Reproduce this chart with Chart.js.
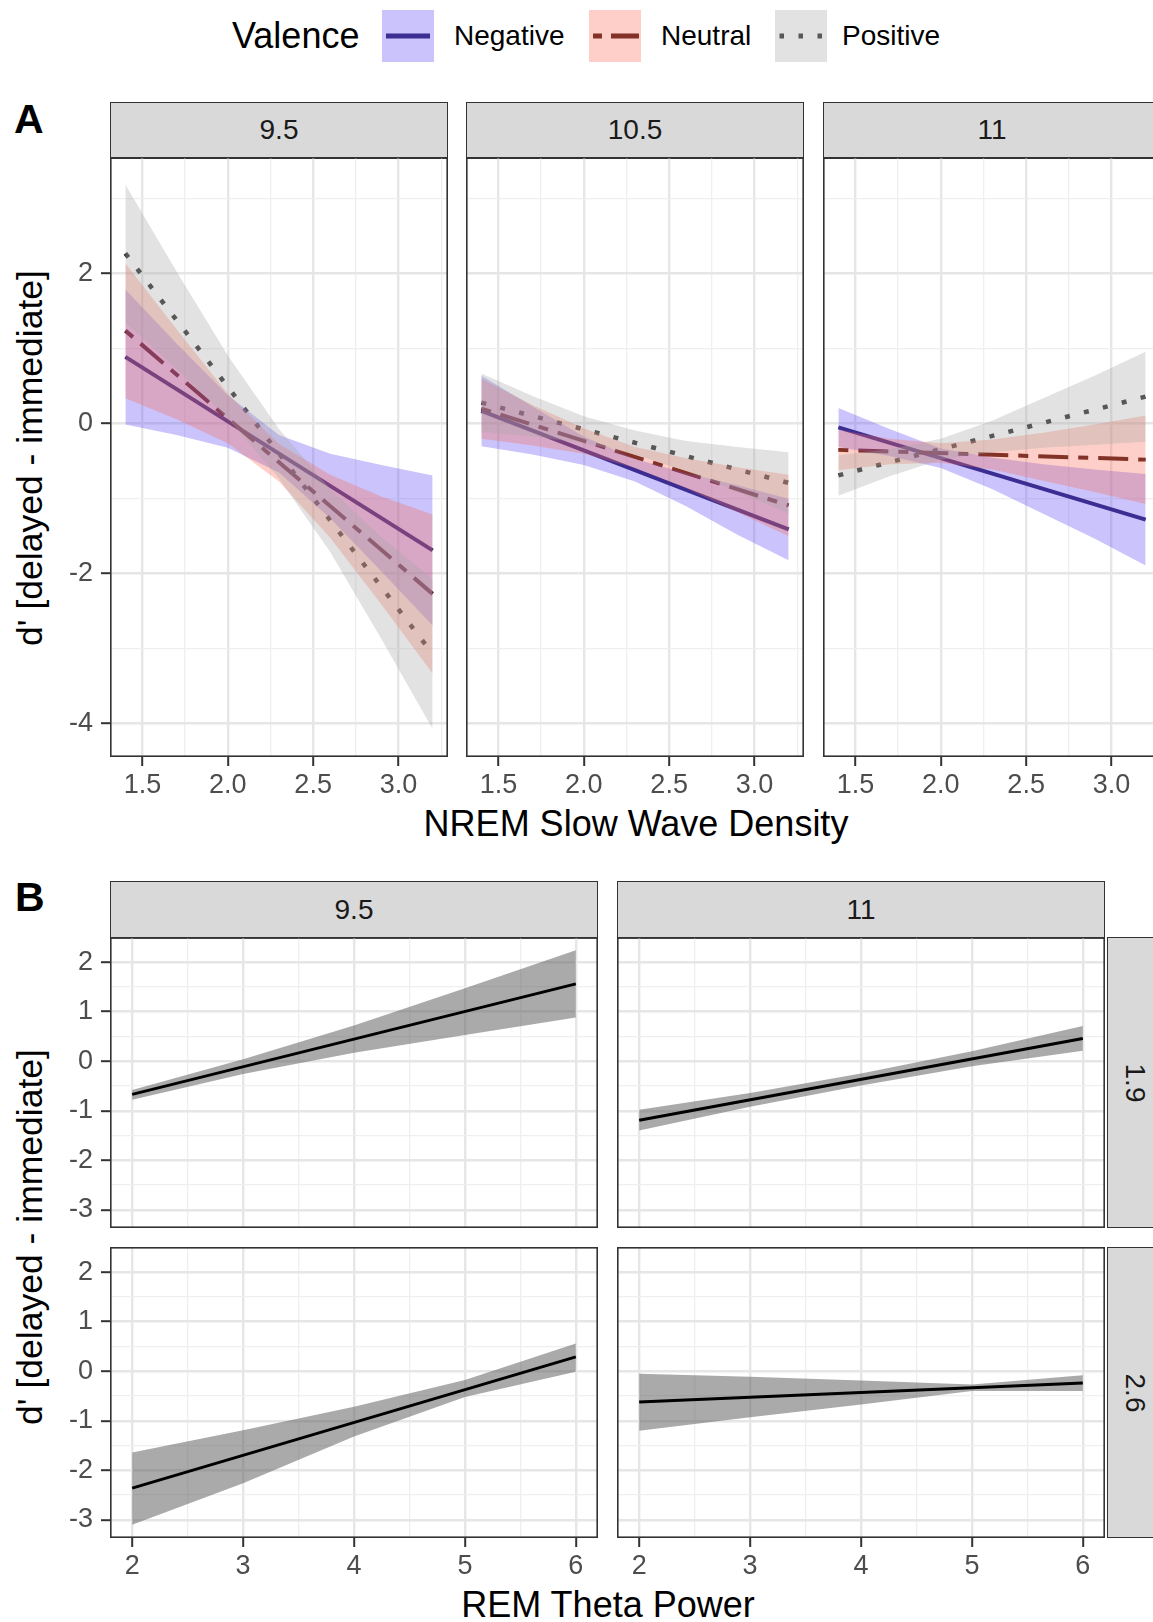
<!DOCTYPE html>
<html>
<head>
<meta charset="utf-8">
<script src="https://cdn.jsdelivr.net/npm/chart.js@4/dist/chart.umd.min.js"></script>
<style>
  html, body { margin: 0; padding: 0; background: #fff; }
  body { width: 1153px; height: 1622px; position: relative; overflow: hidden;
         font-family: "Liberation Sans", Arial, Helvetica, sans-serif; color: #000; }
  .abs { position: absolute; }
  .txt { position: absolute; white-space: nowrap; line-height: 1; }
  .strip { position: absolute; box-sizing: border-box; background: #d9d9d9; border: 1.5px solid #333;
           color: #1a1a1a; font-size: 28px; line-height: 1; display: flex; align-items: center; justify-content: center; }
  .strip.side span { display: inline-block; transform: rotate(90deg); white-space: nowrap; }
  .tag { position: absolute; font-weight: bold; font-size: 41px; line-height: 1; transform: translateY(-50%); }
</style>
</head>
<body>

<!-- shared legend: key line drawn first, ribbon fill laid over it -->
<div class="txt" style="left:232px;top:36px;font-size:36px;transform:translateY(-50%)">Valence</div>
<svg class="abs" style="left:382px;top:10px" width="52" height="52">
  <line x1="4" y1="26" x2="48" y2="26" stroke="#2a2060" stroke-width="5"/>
  <rect width="52" height="52" fill="rgba(94,73,246,0.33)"/>
</svg>
<div class="txt" style="left:454px;top:36px;font-size:28px;transform:translateY(-50%)">Negative</div>
<svg class="abs" style="left:589px;top:10px" width="52" height="52">
  <line x1="4" y1="26" x2="50" y2="26" stroke="#4a1510" stroke-width="5" stroke-dasharray="9 9 28 9"/>
  <rect width="52" height="52" fill="rgba(249,110,88,0.33)"/>
</svg>
<div class="txt" style="left:661px;top:36px;font-size:28px;transform:translateY(-50%)">Neutral</div>
<svg class="abs" style="left:775px;top:10px" width="52" height="52">
  <line x1="4.5" y1="26" x2="48" y2="26" stroke="#303030" stroke-width="5" stroke-dasharray="4.5 14.5"/>
  <rect width="52" height="52" fill="rgba(167,167,167,0.33)"/>
</svg>
<div class="txt" style="left:842px;top:36px;font-size:28px;transform:translateY(-50%)">Positive</div>

<!-- panel tags -->
<div class="tag" style="left:14px;top:119px">A</div>
<div class="tag" style="left:15px;top:897px">B</div>

<!-- axis titles -->
<div class="txt" style="left:31px;top:458px;font-size:35.5px;transform:translate(-50%,-50%) rotate(-90deg)">d' [delayed - immediate]</div>
<div class="txt" style="left:636px;top:824px;font-size:36px;transform:translate(-50%,-50%)">NREM Slow Wave Density</div>
<div class="txt" style="left:31px;top:1237px;font-size:35.5px;transform:translate(-50%,-50%) rotate(-90deg)">d' [delayed - immediate]</div>
<div class="txt" style="left:608px;top:1605px;font-size:36px;transform:translate(-50%,-50%)">REM Theta Power</div>

<script>
// ---------------- data ----------------
const VALENCE = ['Negative', 'Neutral', 'Positive'];

// Panel A: fitted d' change against NREM slow wave density, faceted by 9.5 / 10.5 / 11
const A_FACET_LABELS = ['9.5', '10.5', '11'];
const A_LINE_X = [1.4, 3.2];
const A_BAND_X = [1.4, 1.7, 2.0, 2.3, 2.6, 2.9, 3.2];

const A95_NEG_FIT = [0.89, -1.69];
const A95_NEG_LO  = [-0.01, -0.15, -0.32, -0.65, -1.26, -1.97, -2.69];
const A95_NEG_HI  = [1.79, 1.07, 0.38, -0.15, -0.40, -0.55, -0.69];
const A95_NEU_FIT = [1.24, -2.27];
const A95_NEU_LO  = [0.34, 0.06, -0.26, -0.77, -1.52, -2.41, -3.33];
const A95_NEU_HI  = [2.14, 1.26, 0.40, -0.27, -0.68, -0.97, -1.21];
const A95_POS_FIT = [2.27, -3.07];
const A95_POS_LO  = [1.35, 0.73, 0.07, -0.73, -1.71, -2.87, -4.07];
const A95_POS_HI  = [3.19, 2.03, 0.91, -0.07, -0.87, -1.51, -2.07];

const A105_NEG_FIT = [0.17, -1.41];
const A105_NEG_LO  = [-0.30, -0.41, -0.55, -0.77, -1.10, -1.48, -1.82];
const A105_NEG_HI  = [0.64, 0.23, -0.17, -0.47, -0.66, -0.82, -1.00];
const A105_NEU_FIT = [0.20, -1.09];
const A105_NEU_LO  = [-0.20, -0.29, -0.40, -0.59, -0.86, -1.18, -1.50];
const A105_NEU_HI  = [0.60, 0.25, -0.06, -0.31, -0.46, -0.58, -0.68];
const A105_POS_FIT = [0.28, -0.79];
const A105_POS_LO  = [-0.11, -0.17, -0.26, -0.41, -0.63, -0.91, -1.20];
const A105_POS_HI  = [0.67, 0.37, 0.10, -0.09, -0.23, -0.31, -0.38];

const A11_NEG_FIT = [-0.05, -1.28];
const A11_NEG_LO  = [-0.31, -0.43, -0.59, -0.87, -1.20, -1.53, -1.89];
const A11_NEG_HI  = [0.21, -0.07, -0.33, -0.45, -0.54, -0.61, -0.67];
const A11_NEU_FIT = [-0.35, -0.48];
const A11_NEU_LO  = [-0.62, -0.54, -0.52, -0.61, -0.76, -0.91, -1.07];
const A11_NEU_HI  = [-0.08, -0.20, -0.26, -0.21, -0.12, -0.01, 0.11];
const A11_POS_FIT = [-0.69, 0.36];
const A11_POS_LO  = [-0.96, -0.70, -0.48, -0.38, -0.32, -0.28, -0.24];
const A11_POS_HI  = [-0.42, -0.34, -0.20, 0.04, 0.34, 0.64, 0.96];

const A_X_RANGE = [1.31, 3.29];
const A_Y_RANGE = [-4.445, 3.555];
const A_X_TICKS = [1.5, 1.75, 2.0, 2.25, 2.5, 2.75, 3.0, 3.25];
const A_X_LABELED = [1.5, 2.0, 2.5, 3.0];
const A_Y_TICKS = [-4, -3, -2, -1, 0, 1, 2, 3];
const A_Y_LABELED = [-4, -2, 0, 2];

// Panel B: fitted d' change against REM theta power, columns 9.5 / 11, rows 1.9 / 2.6
const B_COL_LABELS = ['9.5', '11'];
const B_ROW_LABELS = ['1.9', '2.6'];
const B_LINE_X = [2, 6];
const B_BAND_X = [2, 3, 4, 5, 6];

const B95_19_FIT = [-0.67, 1.56];
const B95_19_LO  = [-0.78, -0.26, 0.17, 0.53, 0.88];
const B95_19_HI  = [-0.58, 0.04, 0.72, 1.47, 2.24];
const B11_19_FIT = [-1.19, 0.46];
const B11_19_LO  = [-1.40, -0.92, -0.49, -0.10, 0.21];
const B11_19_HI  = [-0.98, -0.64, -0.25, 0.20, 0.71];
const B95_26_FIT = [-2.36, 0.29];
const B95_26_LO  = [-3.10, -2.26, -1.32, -0.52, -0.01];
const B95_26_HI  = [-1.64, -1.19, -0.72, -0.18, 0.56];
const B11_26_FIT = [-0.62, -0.24];
const B11_26_LO  = [-1.20, -0.93, -0.67, -0.40, -0.40];
const B11_26_HI  = [-0.05, -0.11, -0.19, -0.27, -0.08];

const B_X_RANGE = [1.8, 6.2];
const B_Y_RANGE = [-3.367, 2.507];
const B_X_TICKS = [2, 2.5, 3, 3.5, 4, 4.5, 5, 5.5, 6];
const B_X_LABELED = [2, 3, 4, 5, 6];
const B_Y_TICKS = [-3, -2.5, -2, -1.5, -1, -0.5, 0, 0.5, 1, 1.5, 2, 2.5];
const B_Y_LABELED = [-3, -2, -1, 0, 1, 2];

// ---------------- styling ----------------
const FILL = { Negative: 'rgba(94,73,246,0.33)', Neutral: 'rgba(249,110,88,0.33)', Positive: 'rgba(167,167,167,0.33)' };
const STROKE = { Negative: '#2a2060', Neutral: '#4a1510', Positive: '#303030' };
const DASH = { Negative: [], Neutral: [10, 10, 30, 10], Positive: [5, 14.5] };
const WIDTH = { Negative: 4, Neutral: 4, Positive: 4.5 };
const B_FILL = 'rgba(85,85,85,0.5)';

const GRID_MAJOR = '#e6e6e6';
const GRID_MINOR = '#efefef';
const TICK_FONT = { family: '"Liberation Sans", Arial, sans-serif', size: 27 };
const Y_ROOM = 110;   // space left of the first column for y tick labels
const X_ROOM = 52;    // space under the bottom row for x tick labels

Chart.defaults.font.family = '"Liberation Sans", Arial, sans-serif';

const near = (list, v) => list.some(t => Math.abs(t - v) < 1e-9);
const pts = (xs, ys) => xs.map((x, i) => ({ x, y: ys[i] }));

// ggplot-like panel frame
const panelBorder = {
  id: 'panelBorder',
  afterDraw(chart) {
    const { ctx, chartArea: a } = chart;
    ctx.save();
    ctx.strokeStyle = '#333';
    ctx.lineWidth = 1.6;
    ctx.strokeRect(a.left + 0.8, a.top + 0.8, a.right - a.left - 1.6, a.bottom - a.top - 1.6);
    ctx.restore();
  }
};

function gridOpts(majors, drawTicks) {
  return {
    color: c => (c.tick && near(majors, c.tick.value)) ? GRID_MAJOR : GRID_MINOR,
    lineWidth: c => (c.tick && near(majors, c.tick.value)) ? 2.4 : 1.3,
    drawTicks: drawTicks,
    tickLength: 9,
    tickWidth: 2,
    tickColor: c => (c.tick && near(majors, c.tick.value)) ? '#333' : 'rgba(0,0,0,0)'
  };
}

function xAxis(range, ticks, majors, show, fmt) {
  return {
    type: 'linear', position: 'bottom', bounds: 'data',
    min: range[0], max: range[1],
    afterBuildTicks: s => { s.ticks = ticks.map(v => ({ value: v })); },
    afterFit: s => { s.height = show ? X_ROOM : 0; s.paddingLeft = 0; s.paddingRight = 0; },
    grid: gridOpts(majors, show),
    border: { display: false },
    ticks: {
      display: show, autoSkip: false, maxRotation: 0, padding: 3,
      color: '#4d4d4d', font: TICK_FONT,
      callback: v => near(majors, v) ? fmt(v) : ''
    }
  };
}

function yAxis(range, ticks, majors, show) {
  return {
    type: 'linear', position: 'left', bounds: 'data',
    min: range[0], max: range[1],
    afterBuildTicks: s => { s.ticks = ticks.map(v => ({ value: v })); },
    afterFit: s => { s.width = show ? Y_ROOM : 0; s.paddingTop = 0; s.paddingBottom = 0; },
    grid: gridOpts(majors, show),
    border: { display: false },
    ticks: {
      display: show, autoSkip: false, padding: 8,
      color: '#4d4d4d', font: TICK_FONT,
      callback: v => near(majors, v) ? String(v) : ''
    }
  };
}

function band(xs, lo, hi, fill, order) {
  const base = { borderColor: 'rgba(0,0,0,0)', borderWidth: 0, pointRadius: 0, pointHoverRadius: 0, tension: 0, order };
  return [
    Object.assign({ data: pts(xs, hi), fill: '+1', backgroundColor: fill }, base),
    Object.assign({ data: pts(xs, lo), fill: false }, base)
  ];
}

function fitLine(xs, ys, color, width, dash, order) {
  return { data: pts(xs, ys), borderColor: color, borderWidth: width, borderDash: dash,
           borderCapStyle: 'butt', pointRadius: 0, pointHoverRadius: 0, tension: 0, fill: false, order };
}

function makePanel(p) {
  const L = p.showY ? Y_ROOM : 0;
  const B = p.showX ? X_ROOM : 0;
  const w = p.width + L, h = p.height + B;
  const box = document.createElement('div');
  box.className = 'abs';
  box.style.cssText = `left:${p.left - L}px;top:${p.top}px;width:${w}px;height:${h}px;`;
  const cv = document.createElement('canvas');
  cv.width = w; cv.height = h;
  cv.style.width = w + 'px'; cv.style.height = h + 'px';
  box.appendChild(cv);
  document.body.appendChild(box);
  new Chart(cv, {
    type: 'line',
    data: { datasets: p.datasets },
    options: {
      responsive: false, animation: false, devicePixelRatio: 1, events: [],
      layout: { padding: 0 },
      plugins: { legend: { display: false }, tooltip: { enabled: false } },
      scales: { x: p.x, y: p.y }
    },
    plugins: [panelBorder]
  });
}

function makeStrip(left, top, width, height, text, side) {
  const d = document.createElement('div');
  d.className = 'strip' + (side ? ' side' : '');
  d.style.cssText = `left:${left}px;top:${top}px;width:${width}px;height:${height}px;`;
  const s = document.createElement('span');
  s.textContent = text;
  d.appendChild(s);
  document.body.appendChild(d);
}

// ---------------- panel A ----------------
const A_SERIES = [
  { neg: [A95_NEG_FIT, A95_NEG_LO, A95_NEG_HI], neu: [A95_NEU_FIT, A95_NEU_LO, A95_NEU_HI], pos: [A95_POS_FIT, A95_POS_LO, A95_POS_HI] },
  { neg: [A105_NEG_FIT, A105_NEG_LO, A105_NEG_HI], neu: [A105_NEU_FIT, A105_NEU_LO, A105_NEU_HI], pos: [A105_POS_FIT, A105_POS_LO, A105_POS_HI] },
  { neg: [A11_NEG_FIT, A11_NEG_LO, A11_NEG_HI], neu: [A11_NEU_FIT, A11_NEU_LO, A11_NEU_HI], pos: [A11_POS_FIT, A11_POS_LO, A11_POS_HI] }
];
const A_LEFT = [110, 466, 823];
const A_TOP = 157, A_W = 338, A_H = 600;

A_FACET_LABELS.forEach((lab, f) => {
  makeStrip(A_LEFT[f], 102, A_W, 56.5, lab, false);
  const s = A_SERIES[f];
  const groups = [s.neg, s.neu, s.pos];
  const lines = [], ribbons = [];
  // fitted lines sit underneath; the translucent ribbons are layered over them
  VALENCE.forEach((v, i) => {
    const [fit, lo, hi] = groups[i];
    lines.push(fitLine(A_LINE_X, fit, STROKE[v], WIDTH[v], DASH[v], 103 - i));
    ribbons.push(...band(A_BAND_X, lo, hi, FILL[v], 30 - i * 10));
  });
  makePanel({
    left: A_LEFT[f], top: A_TOP, width: A_W, height: A_H,
    showX: true, showY: f === 0,
    x: xAxis(A_X_RANGE, A_X_TICKS, A_X_LABELED, true, v => v.toFixed(1)),
    y: yAxis(A_Y_RANGE, A_Y_TICKS, A_Y_LABELED, f === 0),
    datasets: [...lines, ...ribbons]
  });
});

// ---------------- panel B ----------------
const B_CELLS = [
  [[B95_19_FIT, B95_19_LO, B95_19_HI], [B11_19_FIT, B11_19_LO, B11_19_HI]],
  [[B95_26_FIT, B95_26_LO, B95_26_HI], [B11_26_FIT, B11_26_LO, B11_26_HI]]
];
const B_LEFT = [110, 617];
const B_TOP = [937, 1247];
const B_W = 488, B_H = 291;

B_COL_LABELS.forEach((lab, c) => makeStrip(B_LEFT[c], 881, B_W, 57.5, lab, false));
B_ROW_LABELS.forEach((lab, r) => makeStrip(1106.5, B_TOP[r], 58, B_H, lab, true));

B_ROW_LABELS.forEach((_, r) => {
  B_COL_LABELS.forEach((__, c) => {
    const [fit, lo, hi] = B_CELLS[r][c];
    makePanel({
      left: B_LEFT[c], top: B_TOP[r], width: B_W, height: B_H,
      showX: r === 1, showY: c === 0,
      x: xAxis(B_X_RANGE, B_X_TICKS, B_X_LABELED, r === 1, v => String(v)),
      y: yAxis(B_Y_RANGE, B_Y_TICKS, B_Y_LABELED, c === 0),
      datasets: [
        ...band(B_BAND_X, lo, hi, B_FILL, 20),
        fitLine(B_LINE_X, fit, '#000', 3, [], 10)
      ]
    });
  });
});
</script>
</body>
</html>
